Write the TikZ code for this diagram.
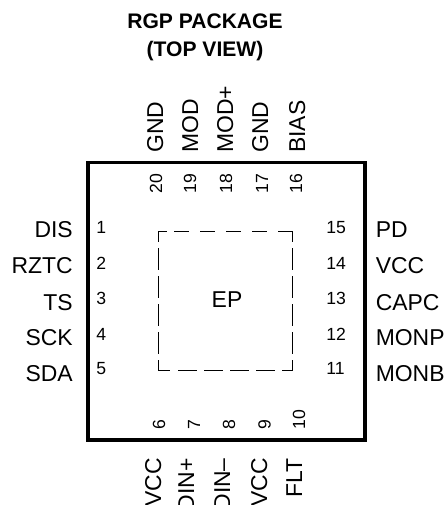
\documentclass[tikz,border=0pt]{standalone}
\usepackage{fontspec}
\setmainfont{Liberation Sans}
\tikzset{
  pinname/.style={inner sep=0pt, font=\fontsize{17.2}{19}\selectfont},
  pinnum/.style={inner sep=0pt, font=\fontsize{13.2}{15}\selectfont},
  titletext/.style={inner sep=0pt, font=\fontsize{15.8}{18}\selectfont\bfseries},
  padtop/.style={line width=0.75pt, dash pattern=on 6.3pt off 5.7pt on 11pt off 8.5pt on 11pt off 8.5pt on 11pt off 8.5pt on 11pt off 8.5pt on 20pt off 20pt},
  padbottom/.style={line width=0.75pt, dash pattern=on 8.8pt off 6.2pt on 13.8pt off 5.7pt on 13.8pt off 5.7pt on 13.8pt off 5.7pt on 13.8pt off 5.7pt on 20pt off 20pt},
  padside/.style={line width=0.75pt, dash pattern=on 8.2pt off 4.6pt on 16.1pt off 4.9pt on 16.1pt off 4.9pt on 16.1pt off 4.9pt on 16.1pt off 4.9pt on 20pt off 20pt}
}

\begin{document}
\begin{tikzpicture}[x=0.75pt, y=-0.75pt]
        \useasboundingbox (0,0) rectangle (447,505);

        % Title
        \node[titletext, anchor=base] (title1) at (205,29) {RGP PACKAGE};
        \node[titletext, anchor=base] (title2) at (205,57) {(TOP VIEW)};

        % Package outline and exposed pad
        \node[draw, line width=2.5pt, minimum width=207.75pt, minimum height=208pt, inner sep=0pt, outer sep=0pt] (body) at (226.5,301.3) {};
        \node[minimum width=100.3pt, minimum height=104.8pt, inner sep=0pt, outer sep=0pt] (pad) at (225.2,300.9) {};
        \node[pinname, anchor=base] (ep) at (227,307) {EP};

        % Dashed pad sides
        \draw[padtop] (pad.north west) -- (pad.north east);
        \draw[padbottom] (pad.south west) -- (pad.south east);
        \draw[padside] (pad.north west) -- (pad.south west);
        \draw[padside] (pad.north east) -- (pad.south east);

        % Top pins
        \foreach \name/\num/\xa/\xb in {GND/20/163/162, MOD/19/198/196, MOD+/18/233/232, GND/17/268/268, BIAS/16/305/302} {
            \node[pinname, rotate=90, anchor=base west] (top\num) at (\xa,153) {\name};
            \node[pinnum, rotate=90, anchor=base west] (n\num) at (\xb,194) {\num};
        }

        % Bottom pins
        \foreach \name/\num/\xa/\xb in {VCC/6/161/165, DIN+/7/194/200, DIN--/8/230/235, VCC/9/267/270.5, FLT/10/302/305} {
            \node[pinname, rotate=90, anchor=base east] (bot\num) at (\xa,458) {\name};
            \node[pinnum, rotate=90, anchor=base west] (n\num) at (\xb,430) {\num};
        }

        % Left pins
        \foreach \name/\num/\ya/\yb in {DIS/1/238/234, RZTC/2/273/269, TS/3/310/304, SCK/4/345/340, SDA/5/381/374} {
            \node[pinname, anchor=base east] (left\num) at (73,\ya) {\name};
            \node[pinnum, anchor=base west] (n\num) at (96,\yb) {\num};
        }

        % Right pins
        \foreach \name/\num/\ya/\yb in {PD/15/238/234, VCC/14/273/269, CAPC/13/310/304, MONP/12/345/340, MONB/11/381/374} {
            \node[pinname, anchor=base west] (right\num) at (375.5,\ya) {\name};
            \node[pinnum, anchor=base west] (n\num) at (326,\yb) {\num};
        }

\end{tikzpicture}
\end{document}
